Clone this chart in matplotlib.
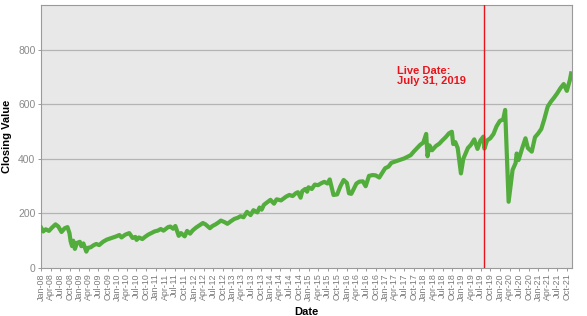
import matplotlib
matplotlib.use("Agg")
import matplotlib.pyplot as plt
import matplotlib.dates as mdates
import pandas as pd

plt.rcParams['font.family'] = ['Liberation Sans', 'DejaVu Sans']

dates = [
    '2008-01-02', '2008-01-22', '2008-02-15', '2008-03-17', '2008-04-15', '2008-05-19',
    '2008-06-15', '2008-07-15', '2008-08-15', '2008-09-10', '2008-09-29', '2008-10-10',
    '2008-10-24', '2008-11-04', '2008-11-20', '2008-12-10', '2009-01-06', '2009-01-20',
    '2009-02-09', '2009-03-09', '2009-03-26', '2009-04-20', '2009-05-20', '2009-06-12',
    '2009-07-10', '2009-08-15', '2009-09-20', '2009-10-20', '2009-11-20', '2009-12-20',
    '2010-01-19', '2010-02-08', '2010-03-15', '2010-04-23', '2010-05-25', '2010-06-20',
    '2010-07-02', '2010-07-25', '2010-08-26', '2010-09-20', '2010-10-20', '2010-11-20',
    '2010-12-20', '2011-01-20', '2011-02-18', '2011-03-16', '2011-04-29', '2011-05-20',
    '2011-06-16', '2011-07-07', '2011-08-08', '2011-08-30', '2011-09-22', '2011-10-04',
    '2011-10-27', '2011-11-25', '2011-12-20', '2012-01-20', '2012-02-20', '2012-03-26',
    '2012-04-20', '2012-06-01', '2012-06-25', '2012-07-25', '2012-08-25', '2012-09-14',
    '2012-10-20', '2012-11-15', '2012-12-20', '2013-01-20', '2013-02-20', '2013-03-20',
    '2013-04-18', '2013-05-21', '2013-06-24', '2013-07-22', '2013-08-28', '2013-09-18',
    '2013-10-08', '2013-10-30', '2013-11-27', '2013-12-31', '2014-02-03', '2014-02-28',
    '2014-04-11', '2014-05-30', '2014-06-30', '2014-07-31', '2014-08-29', '2014-09-19',
    '2014-10-15', '2014-10-31', '2014-11-28', '2014-12-16', '2014-12-29', '2015-01-30',
    '2015-02-27', '2015-03-31', '2015-04-30', '2015-05-29', '2015-06-29', '2015-07-20',
    '2015-08-25', '2015-09-29', '2015-10-30', '2015-11-30', '2015-12-31', '2016-01-20',
    '2016-02-11', '2016-03-31', '2016-04-29', '2016-05-31', '2016-06-27', '2016-07-29',
    '2016-08-31', '2016-09-30', '2016-11-04', '2016-12-30', '2017-01-31', '2017-02-28',
    '2017-03-31', '2017-04-28', '2017-05-31', '2017-06-30', '2017-07-31', '2017-08-31',
    '2017-09-29', '2017-10-31', '2017-11-30', '2017-12-29', '2018-01-26', '2018-02-08',
    '2018-02-26', '2018-03-23', '2018-04-30', '2018-05-31', '2018-06-29', '2018-07-31',
    '2018-08-31', '2018-09-28', '2018-10-11', '2018-10-31', '2018-11-23', '2018-12-24',
    '2019-01-15', '2019-02-28', '2019-03-29', '2019-04-30', '2019-05-31', '2019-06-28',
    '2019-07-26', '2019-08-05', '2019-08-30', '2019-09-30', '2019-10-31', '2019-11-29',
    '2019-12-31', '2020-01-31', '2020-02-19', '2020-03-23', '2020-04-30', '2020-05-29',
    '2020-06-08', '2020-06-26', '2020-07-31', '2020-08-31', '2020-09-23', '2020-10-30',
    '2020-11-30', '2020-12-31', '2021-01-29', '2021-02-26', '2021-03-31', '2021-04-30',
    '2021-05-31', '2021-06-30', '2021-07-31', '2021-08-31', '2021-09-30', '2021-10-29',
    '2021-11-10',
]
closing = [
    148, 134, 142, 136, 148, 160,
    152, 132, 146, 150, 128, 98,
    80, 100, 70, 92, 96, 80,
    90, 60, 74, 76, 84, 88,
    84, 96, 104, 108, 112, 116,
    121, 112, 122, 128, 110, 114,
    103, 112, 106, 114, 122, 128,
    134, 137, 143, 137, 150, 152,
    144, 154, 118, 128, 120, 116,
    136, 126, 138, 148, 156, 165,
    160, 146, 154, 160, 168, 174,
    168, 162, 172, 180, 184, 190,
    186, 206, 194, 212, 204, 222,
    214, 232, 240, 250, 236, 252,
    248, 262, 268, 264, 274, 278,
    258, 282, 290, 280, 296, 290,
    306, 304, 311, 316, 310, 325,
    268, 270, 300, 323, 312, 274,
    272, 310, 317, 318, 300, 338,
    341, 340, 332, 366, 372, 386,
    390, 394, 398, 402, 408, 414,
    427, 440, 452, 460, 492, 410,
    450, 432, 448, 456, 468, 480,
    494, 500, 455, 462, 440, 347,
    400, 440, 452, 472, 437, 468,
    482, 438, 468, 476, 492, 520,
    540, 545, 580, 243, 360, 385,
    420, 396, 440, 476, 440, 427,
    480, 494, 510, 545, 592, 610,
    625, 641, 660, 675, 650, 690,
    714,
]
live_date = '2019-07-31'
y_ticks = [0, 200, 400, 600, 800]

x = pd.to_datetime(dates)

fig = plt.figure(figsize=(5.87, 3.16), dpi=100)
ax = fig.add_axes([0.0698, 0.152, 0.9046, 0.832])
ax.set_facecolor('#e8e8e8')

for t in y_ticks[1:]:
    ax.axhline(t, color='#b4b4b4', lw=0.9, zorder=1)

ax.plot(x, closing, color='#52ad3c', lw=3.0, solid_joinstyle='round', zorder=3)
ax.axvline(pd.Timestamp(live_date), color='#e8141b', lw=1.0, zorder=4)
ax.text(pd.Timestamp('2017-04-20'), 668, 'Live Date:\nJuly 31, 2019', color='#e8141b',
        fontsize=8, fontweight='bold', va='bottom', ha='left', linespacing=1.05)

ax.set_xlim(pd.Timestamp('2008-01-01'), pd.Timestamp('2021-11-18'))
ax.set_ylim(0, 965)
ax.set_yticks(y_ticks)
ax.xaxis.set_major_locator(mdates.MonthLocator(bymonth=[1, 4, 7, 10]))
ax.xaxis.set_major_formatter(mdates.DateFormatter('%b-%y'))
plt.setp(ax.get_xticklabels(), rotation=90)

ax.tick_params(axis='both', colors='#8a8a8a', length=2.5, width=0.6, pad=1.5)
ax.tick_params(axis='x', labelcolor='#7a7a7a', labelsize=6.4)
ax.tick_params(axis='y', labelsize=7.5, labelcolor='#8a8a8a')
for s in ax.spines.values():
    s.set_color('#9a9a9a')
    s.set_linewidth(0.8)

ax.set_xlabel('Date', fontsize=8, fontweight='bold')
ax.set_ylabel('Closing Value', fontsize=8, fontweight='bold')
ax.xaxis.set_label_coords(0.5, -0.148)
ax.yaxis.set_label_coords(-0.055, 0.5)

fig.savefig('out.png', dpi=100)
